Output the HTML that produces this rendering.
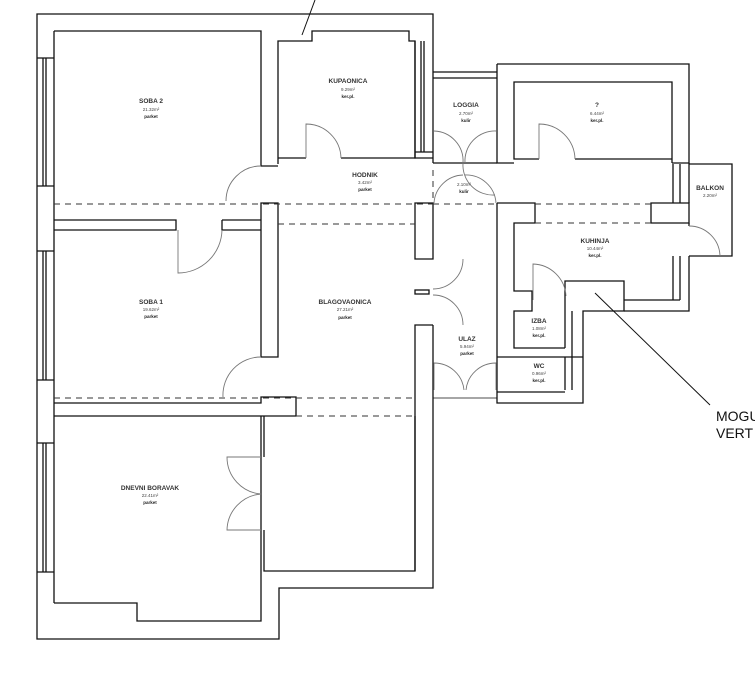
<!DOCTYPE html>
<html><head><meta charset="utf-8"><style>
html,body{margin:0;padding:0;background:#fff;}
svg{display:block;}
text{font-family:"Liberation Sans",sans-serif;text-anchor:middle;fill:#222;}
.n{font-size:6.5px;font-weight:bold;fill:#333;}
.s{font-size:4.5px;fill:#444;}
.p{font-size:4.5px;font-weight:bold;}
</style></head><body>
<svg width="755" height="690" viewBox="0 0 755 690" xmlns="http://www.w3.org/2000/svg">
<rect width="755" height="690" fill="#fff"/>
<g fill="none" stroke="#111" stroke-width="1.3">
<!-- outer envelope -->
<path d="M433,163 V14 H37 V639 H279 V588 H433 V325"/>
<!-- inner left line -->
<path d="M54,31 V603"/>
<!-- Soba2 -->
<path d="M54,31 H261 V166 H278"/>
<!-- kupaonica -->
<path d="M278,164 V41 H312 V31 H409 V41 H415 V158 H341"/>
<path d="M306,158 H278"/>
<path d="M278,203 H261 V357 H278 Z"/>
<!-- soba2/soba1 wall -->
<path d="M37,186 H54 M37,251 H54"/>
<path d="M54,220 H176 V230 H54"/>
<path d="M222,220 H261 M222,220 V230 H261"/>
<!-- soba1 bottom -->
<path d="M37,380 H54 M37,443 H54"/>
<path d="M54,403 H261 V397 H296 V416 H54"/>
<!-- dnevni -->
<path d="M37,572 H54 M54,603 H137 V621 H261 V416"/>
<path d="M264,416 V457 M264,530 V571 H415 V416"/>
<!-- windows -->
<path d="M37,58 H54 M43,58 V186 M46,58 V186"/>
<path d="M43,251 V380 M46,251 V380"/>
<path d="M43,443 V572 M46,443 V572"/>
<!-- right column walls -->
<path d="M415,41 V158 H433 M421,41 V152 M424,41 V152 M415,152 H433"/>
<path d="M415,203 H433 V259 H415 Z"/>
<rect x="415" y="290" width="14" height="4"/>
<path d="M433,325 H415 V571"/>
<!-- loggia -->
<path d="M433,72 H497 M433,78 H497"/>
<path d="M497,64 H689 V163 H672 M672,163 V82 H514 V159 H539 M575,159 H672"/>
<path d="M497,64 V163 H514"/>
<path d="M433,163 H497"/>
<!-- balcony -->
<path d="M689,164 H732 V256 H689"/>
<path d="M673,164 V203 M680,164 V203 M651,203 H689 V223 H651 Z"/>
<path d="M689,163 V203 M689,223 V226"/>
<path d="M673,256 V300 M680,256 V300 M689,256 V311 H624 M624,300 H680"/>
<!-- kitchen block -->
<path d="M497,203 H535 V223 H514 V291 H532 V311 H514 V348 H565"/>
<path d="M497,203 V403 H583 V311 H624 V281 H565 V348"/>
<path d="M572,311 V390 M565,357 V390"/>
<path d="M497,357 H583"/>
<path d="M497,392 H565"/>
<path d="M433,398 H497" stroke-width="0.8"/>
<!-- leader lines -->
<path d="M302,35 L315,0" stroke-width="1"/>
<path d="M595,293 L710,405" stroke-width="1"/>
</g>
<!-- dashed lines -->
<g stroke="#333" stroke-width="1" stroke-dasharray="6,5" fill="none">
<path d="M54,204 H433"/>
<path d="M278,224 H415"/>
<path d="M433,204 H496 M535,204 H651"/>
<path d="M535,223 H651"/>
<path d="M54,398 H415"/>
<path d="M296,416 H415"/>
<path d="M433,170 V200"/>
</g>
<!-- doors -->
<g stroke="#777" stroke-width="0.9" fill="none">
<path d="M261,166 A35,35 0 0 0 226,201"/>
<path d="M178,230 V273 A44,44 0 0 0 222,230"/>
<path d="M306,158 V124 A35,35 0 0 1 341,158"/>
<path d="M261,357 A38,38 0 0 0 223,397"/>
<path d="M261,457 H227 A37,37 0 0 0 261,494 A37,37 0 0 0 227,530 H261"/>
<path d="M433,289 A30,30 0 0 0 463,259 M433,295 A30,30 0 0 1 463,325"/>
<path d="M434,131 A30,30 0 0 1 463,163 M496,131 A30,30 0 0 0 465,163"/>
<path d="M463,163 A30,30 0 0 0 495,195 M434,203 A30,30 0 0 1 463,175 M496,203 A30,30 0 0 0 465,175"/>
<path d="M539,159 V124 A36,36 0 0 1 575,159"/>
<path d="M533,300 V264 A34,34 0 0 1 566,296"/>
<path d="M689,226 A31,31 0 0 1 720,256"/>
<path d="M434,390 V363 A30,30 0 0 1 464,390 M496,390 V363 A30,30 0 0 0 466,390"/>
</g>
<!-- labels -->
<text class="n" x="151" y="103">SOBA 2</text><text class="s" x="151" y="111">21.32m²</text><text class="p" x="151" y="118">parket</text>
<text class="n" x="348" y="83">KUPAONICA</text><text class="s" x="348" y="91">9.29m²</text><text class="p" x="348" y="98">ker.pl.</text>
<text class="n" x="365" y="177">HODNIK</text><text class="s" x="365" y="184">3.42m²</text><text class="p" x="365" y="191">parket</text>
<text class="n" x="151" y="304">SOBA 1</text><text class="s" x="151" y="311">19.62m²</text><text class="p" x="151" y="318">parket</text>
<text class="n" x="345" y="304">BLAGOVAONICA</text><text class="s" x="345" y="311">27.21m²</text><text class="p" x="345" y="319">parket</text>
<text class="n" x="150" y="490">DNEVNI BORAVAK</text><text class="s" x="150" y="497">22.41m²</text><text class="p" x="150" y="504">parket</text>
<text class="n" x="466" y="107">LOGGIA</text><text class="s" x="466" y="115">2.70m²</text><text class="p" x="466" y="122">kulir</text>
<text class="n" x="597" y="107">?</text><text class="s" x="597" y="115">6.44m²</text><text class="p" x="597" y="122">ker.pl.</text>
<text class="s" x="464" y="186">2.10m²</text><text class="p" x="464" y="193">kulir</text>
<text class="n" x="710" y="190">BALKON</text><text class="s" x="710" y="197">2.20m²</text>
<text class="n" x="595" y="243">KUHINJA</text><text class="s" x="595" y="250">10.44m²</text><text class="p" x="595" y="257">ker.pl.</text>
<text class="n" x="539" y="323">IZBA</text><text class="s" x="539" y="330">1.08m²</text><text class="p" x="539" y="337">ker.pl.</text>
<text class="n" x="467" y="341">ULAZ</text><text class="s" x="467" y="348">5.94m²</text><text class="p" x="467" y="355">parket</text>
<text class="n" x="539" y="368">WC</text><text class="s" x="539" y="375">0.96m²</text><text class="p" x="539" y="382">ker.pl.</text>
<text x="716" y="421" style="text-anchor:start;font-size:14px;fill:#111">MOGU</text>
<text x="716" y="438" style="text-anchor:start;font-size:14px;fill:#111">VERT</text>
</svg>
</body></html>
